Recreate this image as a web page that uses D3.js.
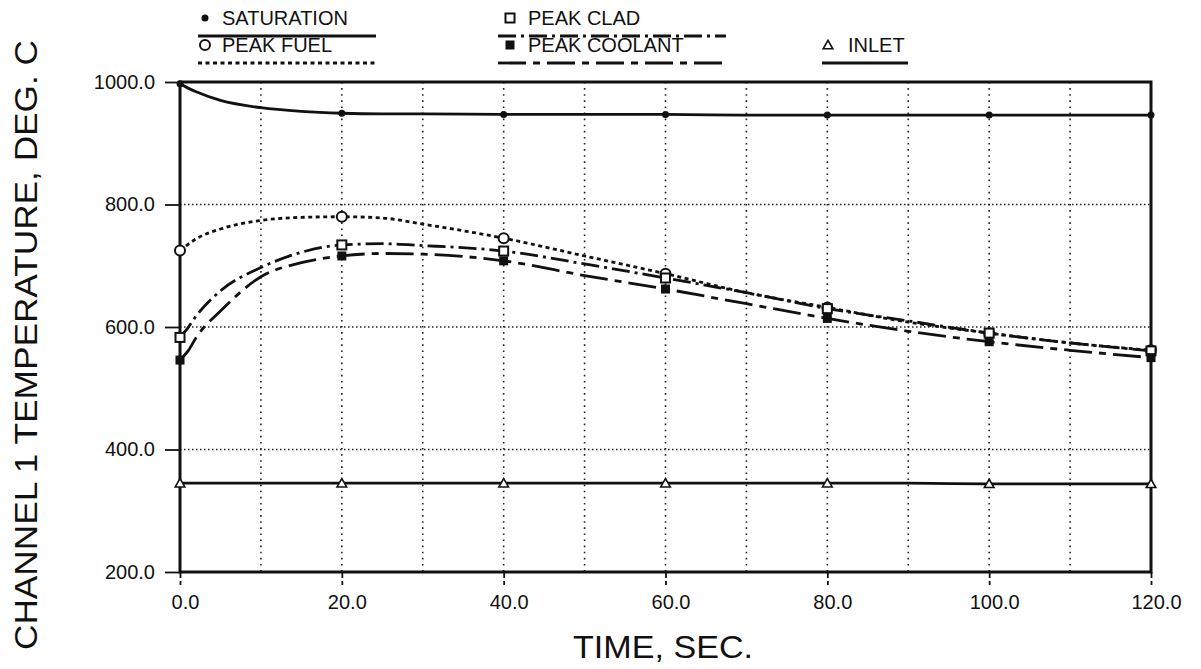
<!DOCTYPE html>
<html>
<head>
<meta charset="utf-8">
<script src="https://cdn.jsdelivr.net/npm/d3@7"></script>
<style>
  body { margin: 0; background: #fff; }
  text { font-family: "Liberation Sans", Arial, sans-serif; fill: #111; }
</style>
</head>
<body>
<svg width="1201" height="669"></svg>
<script>
// time, sec
var time = [0, 1, 2, 5, 10, 15, 20, 25, 30, 40, 50, 60, 70, 80, 90, 100, 110, 120];

// channel 1 temperatures, deg C
var saturation = [997, 990, 984, 970, 958, 952, 949, 948, 948, 947, 947, 947, 946, 946, 946, 946, 946, 946];
var peakFuel   = [725, 735, 744, 760, 774, 779, 780, 778, 768, 745, 716, 687, 656, 632, 608, 590, 574, 562];
var peakClad   = [583, 599, 618, 659, 697, 722, 734, 736, 733, 724, 703, 680, 656, 630, 610, 590, 574, 561];
var peakCool   = [546, 561, 583, 626, 682, 705, 716, 720, 719, 708, 684, 662, 638, 614, 593, 576, 562, 550];
var inlet      = [345, 345, 345, 345, 345, 345, 345, 345, 345, 345, 345, 345, 345, 345, 345, 344, 344, 344];

var xTicks = [0, 20, 40, 60, 80, 100, 120];
var yTicks = [200, 400, 600, 800, 1000];

var svg = d3.select("svg");
var pLeft = 180, pRight = 1151, pTop = 82, pBottom = 572;

var x = d3.scaleLinear().domain([0, 120]).range([pLeft, pRight]);
var y = d3.scaleLinear().domain([200, 1000]).range([pBottom, pTop]);

// grid
svg.selectAll(".vgrid")
  .data([10, 20, 30, 40, 50, 60, 70, 80, 90, 100, 110])
  .enter().append("line")
  .attr("x1", function(d){ return x(d); })
  .attr("x2", function(d){ return x(d); })
  .attr("y1", pTop).attr("y2", pBottom)
  .attr("stroke", "#222").attr("stroke-width", 1.6)
  .attr("stroke-dasharray", "1.6,4.5");
svg.selectAll(".hgrid")
  .data([400, 600, 800])
  .enter().append("line")
  .attr("x1", pLeft).attr("x2", pRight)
  .attr("y1", function(d){ return y(d); })
  .attr("y2", function(d){ return y(d); })
  .attr("stroke", "#222").attr("stroke-width", 1.4)
  .attr("stroke-dasharray", "1.5,2.5");

// axes
var xAxis = d3.axisBottom(x).tickValues(xTicks).tickSize(13).tickPadding(10)
  .tickFormat(function(d){ return d.toFixed(1); });
var yAxis = d3.axisLeft(y).tickValues(yTicks).tickSize(15).tickPadding(10)
  .tickFormat(function(d){ return d.toFixed(1); });

var gx = svg.append("g").attr("transform", "translate(0," + pBottom + ")").call(xAxis);
var gy = svg.append("g").attr("transform", "translate(" + pLeft + ",0)").call(yAxis);
[gx, gy].forEach(function(g){
  g.select(".domain").remove();
  g.selectAll("line").attr("stroke", "#111").attr("stroke-width", 1.8);
  g.selectAll("text").attr("font-size", 20).attr("fill", "#111")
    .style("font-family", "'Liberation Sans', Arial, sans-serif");
});
gx.selectAll("line").attr("stroke-dasharray", "6,3");
gx.selectAll("text").attr("dx", 5);

// frame
svg.append("rect")
  .attr("x", pLeft).attr("y", pTop)
  .attr("width", pRight - pLeft).attr("height", pBottom - pTop)
  .attr("fill", "none").attr("stroke", "#111").attr("stroke-width", 3);

// series
var series = [
  { name: "SATURATION", values: saturation, dash: null, marker: "dot" },
  { name: "PEAK FUEL", values: peakFuel, dash: "4,3.5", marker: "circle" },
  { name: "PEAK CLAD", values: peakClad, dash: "18,5,3,5", marker: "square" },
  { name: "PEAK COOLANT", values: peakCool, dash: "28,7,7,7", marker: "fsquare" },
  { name: "INLET", values: inlet, dash: null, marker: "triangle" }
];

var line = d3.line()
  .x(function(d){ return x(d[0]); })
  .y(function(d){ return y(d[1]); })
  .curve(d3.curveMonotoneX);

series.forEach(function(s){
  var pts = time.map(function(t, i){ return [t, s.values[i]]; });
  svg.append("path")
    .attr("d", line(pts))
    .attr("fill", "none")
    .attr("stroke", "#111")
    .attr("stroke-width", 2.8)
    .attr("stroke-dasharray", s.dash);
  var marks = pts.filter(function(p){ return xTicks.indexOf(p[0]) >= 0; });
  drawMarkers(marks.map(function(p){ return [x(p[0]), y(p[1])]; }), s.marker);
});

function drawMarkers(pos, type){
  var g = svg.append("g");
  pos.forEach(function(p){
    if (type === "dot") {
      g.append("circle").attr("cx", p[0]).attr("cy", p[1]).attr("r", 3.5).attr("fill", "#111");
    } else if (type === "circle") {
      g.append("circle").attr("cx", p[0]).attr("cy", p[1]).attr("r", 5)
        .attr("fill", "#fff").attr("stroke", "#111").attr("stroke-width", 2);
    } else if (type === "square") {
      g.append("rect").attr("x", p[0] - 4.5).attr("y", p[1] - 4.5).attr("width", 9).attr("height", 9)
        .attr("fill", "#fff").attr("stroke", "#111").attr("stroke-width", 2);
    } else if (type === "fsquare") {
      g.append("rect").attr("x", p[0] - 4.5).attr("y", p[1] - 4.5).attr("width", 9).attr("height", 9)
        .attr("fill", "#111");
    } else {
      g.append("path").attr("d", d3.symbol().type(d3.symbolTriangle).size(40)())
        .attr("transform", "translate(" + p[0] + "," + (p[1] + 1) + ")")
        .attr("fill", "#fff").attr("stroke", "#111").attr("stroke-width", 1.6);
    }
  });
}

// legend
var legend = [
  { s: series[0], mx: 205, tx: 222, ty: 25, lx1: 198, lx2: 376, ly: 36 },
  { s: series[1], mx: 205, tx: 222, ty: 52, lx1: 198, lx2: 376, ly: 63 },
  { s: series[2], mx: 510, tx: 528, ty: 25, lx1: 498, lx2: 726, ly: 36 },
  { s: series[3], mx: 510, tx: 528, ty: 52, lx1: 498, lx2: 726, ly: 63 },
  { s: series[4], mx: 828, tx: 848, ty: 52, lx1: 822, lx2: 908, ly: 63 }
];
legend.forEach(function(l){
  drawMarkers([[l.mx, l.ty - 7]], l.s.marker);
  svg.append("text").attr("x", l.tx).attr("y", l.ty)
    .attr("font-size", 20).text(l.s.name);
  svg.append("line").attr("x1", l.lx1).attr("x2", l.lx2)
    .attr("y1", l.ly).attr("y2", l.ly)
    .attr("stroke", "#111").attr("stroke-width", 2.8)
    .attr("stroke-dasharray", l.s.dash);
});

// axis titles
svg.append("text")
  .attr("x", 663).attr("y", 658)
  .attr("text-anchor", "middle").attr("font-size", 32)
  .attr("textLength", 180).attr("lengthAdjust", "spacingAndGlyphs")
  .text("TIME, SEC.");
svg.append("text")
  .attr("transform", "translate(37,345) rotate(-90)")
  .attr("text-anchor", "middle").attr("font-size", 32)
  .attr("textLength", 610).attr("lengthAdjust", "spacingAndGlyphs")
  .text("CHANNEL  1 TEMPERATURE, DEG. C");
</script>
</body>
</html>
